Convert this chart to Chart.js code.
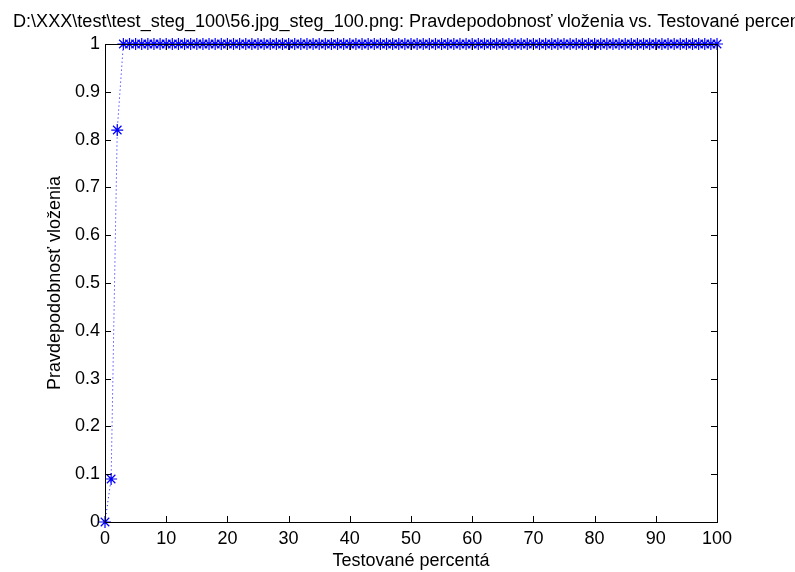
<!DOCTYPE html>
<html>
<head>
<meta charset="utf-8">
<script src="https://cdn.jsdelivr.net/npm/chart.js@4/dist/chart.umd.min.js"></script>
<style>
  html, body { margin: 0; padding: 0; background: #fff; }
  #wrap { width: 795px; height: 572px; }
</style>
</head>
<body>
<div id="wrap"><canvas id="myChart" width="795" height="572"></canvas></div>
<script>
const percents = [
  0, 1, 2, 3, 4, 5, 6, 7, 8, 9,
  10, 11, 12, 13, 14, 15, 16, 17, 18, 19,
  20, 21, 22, 23, 24, 25, 26, 27, 28, 29,
  30, 31, 32, 33, 34, 35, 36, 37, 38, 39,
  40, 41, 42, 43, 44, 45, 46, 47, 48, 49,
  50, 51, 52, 53, 54, 55, 56, 57, 58, 59,
  60, 61, 62, 63, 64, 65, 66, 67, 68, 69,
  70, 71, 72, 73, 74, 75, 76, 77, 78, 79,
  80, 81, 82, 83, 84, 85, 86, 87, 88, 89,
  90, 91, 92, 93, 94, 95, 96, 97, 98, 99,
  100
]
const probability = [
  0, 0.09, 0.82, 1, 1, 1, 1, 1, 1, 1,
  1, 1, 1, 1, 1, 1, 1, 1, 1, 1,
  1, 1, 1, 1, 1, 1, 1, 1, 1, 1,
  1, 1, 1, 1, 1, 1, 1, 1, 1, 1,
  1, 1, 1, 1, 1, 1, 1, 1, 1, 1,
  1, 1, 1, 1, 1, 1, 1, 1, 1, 1,
  1, 1, 1, 1, 1, 1, 1, 1, 1, 1,
  1, 1, 1, 1, 1, 1, 1, 1, 1, 1,
  1, 1, 1, 1, 1, 1, 1, 1, 1, 1,
  1, 1, 1, 1, 1, 1, 1, 1, 1, 1,
  1
]
const xTicks = [0, 10, 20, 30, 40, 50, 60, 70, 80, 90, 100]
const yTicks = [0, 0.1, 0.2, 0.3, 0.4, 0.5, 0.6, 0.7, 0.8, 0.9, 1]
const plotTitle = 'D:\\XXX\\test\\test_steg_100\\56.jpg_steg_100.png: Pravdepodobnosť vloženia vs. Testované percentá'

const FONT = "'Liberation Sans', Arial, Helvetica, sans-serif"

// long title, stretched a little and allowed to run past the right edge
const axesTitle = {
  id: 'axesTitle',
  afterDraw(chart) {
    const ctx = chart.ctx
    const left = 13, width = 802, baseline = 27
    ctx.save()
    ctx.font = '18px ' + FONT
    ctx.fillStyle = '#000'
    ctx.textAlign = 'left'
    ctx.textBaseline = 'alphabetic'
    const w = ctx.measureText(plotTitle).width
    ctx.translate(left, baseline)
    ctx.scale(width / w, 1)
    ctx.fillText(plotTitle, 0, 0)
    ctx.restore()
  }
}

// box round the plot area with short ticks pointing inwards on every side
const boxTicks = {
  id: 'boxTicks',
  afterDraw(chart) {
    const ctx = chart.ctx
    const a = chart.chartArea
    const xs = chart.scales.x
    const ys = chart.scales.y
    const len = 6
    ctx.save()
    ctx.strokeStyle = '#000'
    ctx.lineWidth = 1
    ctx.beginPath()
    xs.ticks.forEach(t => {
      const px = Math.round(xs.getPixelForValue(t.value)) + 0.5
      ctx.moveTo(px, a.bottom); ctx.lineTo(px, a.bottom - len)
      ctx.moveTo(px, a.top); ctx.lineTo(px, a.top + len)
    })
    ys.ticks.forEach(t => {
      const py = Math.round(ys.getPixelForValue(t.value)) + 0.5
      ctx.moveTo(a.left, py); ctx.lineTo(a.left + len, py)
      ctx.moveTo(a.right, py); ctx.lineTo(a.right - len, py)
    })
    ctx.stroke()
    ctx.strokeRect(Math.round(a.left) + 0.5, Math.round(a.top) + 0.5,
      Math.round(a.right - a.left), Math.round(a.bottom - a.top))
    ctx.restore()
  }
}

function app(){
  const ctx = document.getElementById('myChart').getContext('2d')

  const points = percents.map((p, i) => ({x: p, y: probability[i]}))

  const myChart = new Chart(ctx, {
    type: 'line',
    data: {
      datasets: [{
        data: points,
        borderColor: '#0000ff',
        borderWidth: 1,
        borderDash: [1, 3],
        fill: false,
        tension: 0,
        pointStyle: 'star',
        pointRadius: 6,
        pointBorderWidth: 1.2,
        pointBorderColor: '#0000ff',
        pointBackgroundColor: '#0000ff',
        clip: false
      }]
    },
    options: {
      responsive: false,
      animation: false,
      layout: { padding: { left: 3, right: 78, top: 44, bottom: 0 } },
      plugins: {
        legend: { display: false },
        tooltip: { enabled: false },
        title: { display: false }
      },
      scales: {
        x: {
          type: 'linear',
          min: 0,
          max: 100,
          afterBuildTicks: s => { s.ticks = xTicks.map(v => ({value: v})) },
          afterFit: s => { s.height = 50 },
          grid: { display: false, drawTicks: false },
          border: { display: false },
          ticks: {
            color: '#000',
            padding: 6,
            maxRotation: 0,
            font: { family: FONT, size: 18 }
          },
          title: {
            display: true,
            text: 'Testované percentá',
            color: '#000',
            font: { family: FONT, size: 18 },
            padding: { top: 0, bottom: 0 }
          }
        },
        y: {
          type: 'linear',
          min: 0,
          max: 1,
          afterBuildTicks: s => { s.ticks = yTicks.map(v => ({value: v})) },
          afterFit: s => { s.width = 102 },
          grid: { display: false, drawTicks: false },
          border: { display: false },
          ticks: {
            color: '#000',
            padding: 5,
            font: { family: FONT, size: 18 },
            callback: v => String(v)
          },
          title: {
            display: true,
            text: 'Pravdepodobnosť vloženia',
            color: '#000',
            font: { family: FONT, size: 18 },
            padding: { top: 41, bottom: 0 }
          }
        }
      }
    },
    plugins: [boxTicks, axesTitle]
  })
  myChart.update()
}
app()
</script>
</body>
</html>
